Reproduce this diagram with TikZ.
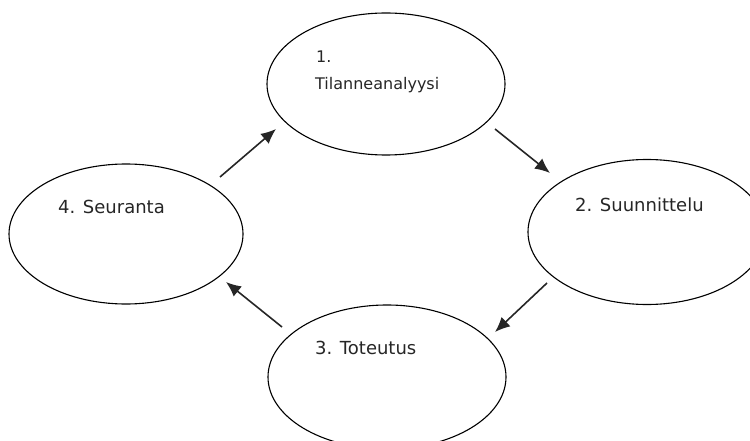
\documentclass[tikz,border=0pt]{standalone}
\usepackage{fontspec}
\setmainfont{DejaVu Sans}
\usetikzlibrary{shapes.geometric,arrows.meta}
\begin{document}
\begin{tikzpicture}[x=1pt, y=-1pt]
\tikzset{phase/.style={ellipse, draw, line width=1.1pt, inner sep=0pt},
txt/.style={anchor=west, inner sep=0pt, text=black!85},
arr/.style={-{Latex[length=15pt,width=13pt]}, line width=1.6pt, black!85}}
\useasboundingbox (0,0) rectangle (750,441);
\node[phase, minimum width=238pt, minimum height=142pt] (ph1) at (386,84){};
\node[phase, minimum width=238pt, minimum height=145pt] (ph2) at (647,232){};
\node[phase, minimum width=238pt, minimum height=144pt] (ph3) at (387,377){};
\node[phase, minimum width=234pt, minimum height=140pt] (ph4) at (126,234){};
\node[txt, font=\fontsize{16}{18}\selectfont] (t1a) at (316,57){1.};
\node[txt, font=\fontsize{16}{18}\selectfont] (t1b) at (315,85){Tilanneanalyysi};
\node[txt, font=\fontsize{18}{20}\selectfont] (t2) at (575,205){2. Suunnittelu};
\node[txt, font=\fontsize{18}{20}\selectfont] (t3) at (315,348){3. Toteutus};
\node[txt, font=\fontsize{18}{20}\selectfont] (t4) at (58,207){4. Seuranta};
\coordinate (a1s) at (220,177);
\coordinate (a1e) at (276,129);
\coordinate (a2s) at (495,129);
\coordinate (a2e) at (550,173);
\coordinate (a3s) at (547,283);
\coordinate (a3e) at (495,332);
\coordinate (a4s) at (282,327);
\coordinate (a4e) at (226,282);
\draw[arr](a1s) -- (a1e);
\draw[arr](a2s) -- (a2e);
\draw[arr](a3s) -- (a3e);
\draw[arr](a4s) -- (a4e);
\end{tikzpicture}
\end{document}
